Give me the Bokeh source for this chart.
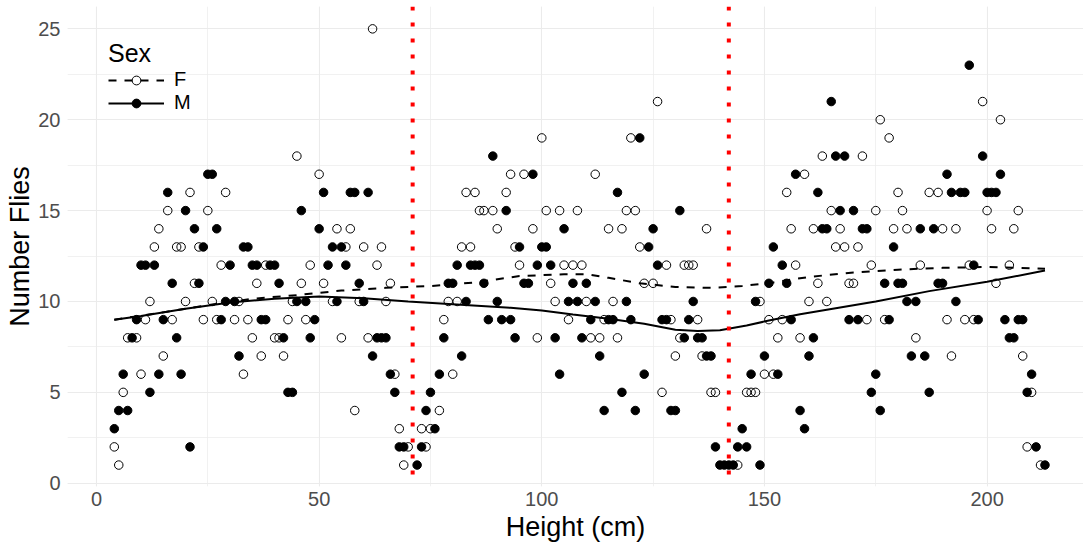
from bokeh.plotting import figure
from bokeh.models import (Range1d, SingleIntervalTicker, Span, Legend, LegendItem)
from bokeh.embed import file_html
from bokeh.resources import INLINE

# ---- data ----
F_HEIGHT = [4, 5, 6, 7, 9, 10, 11, 12, 13, 14, 15, 16, 17, 18, 19, 20, 21, 22, 23, 24, 25, 26, 27, 28, 29,
            31, 32, 33, 34, 35, 36, 37, 38, 40, 41, 42, 43, 44, 45, 46, 47, 48, 50, 51, 53, 54, 55, 56, 57,
            58, 59, 60, 61, 62, 63, 64, 65, 66, 67, 68, 69, 70, 73, 74, 75, 77, 78, 79, 80, 81, 82, 83, 84,
            85, 86, 87, 89, 90, 92, 93, 94, 95, 96, 98, 99, 100, 101, 102, 103, 104, 105, 106, 107, 108,
            109, 110, 111, 112, 113, 114, 115, 116, 117, 118, 119, 120, 121, 122, 123, 125, 126, 127, 128,
            129, 130, 131, 132, 133, 134, 135, 136, 137, 138, 139, 144, 146, 147, 148, 149, 150, 151, 152,
            153, 154, 155, 156, 157, 158, 159, 160, 161, 162, 163, 164, 165, 166, 167, 168, 169, 170, 171,
            172, 173, 174, 175, 176, 177, 178, 179, 180, 181, 182, 184, 185, 187, 189, 190, 191, 192, 193,
            195, 196, 197, 199, 200, 201, 202, 203, 205, 206, 207, 208, 209, 210, 212]
F_FLIES = [2, 1, 5, 8, 8, 6, 9, 10, 13, 14, 7, 15, 9, 13, 13, 10, 16, 11, 13, 9, 15, 10, 9, 12, 16,
           9, 10, 6, 9, 8, 11, 7, 12, 8, 8, 7, 9, 10, 18, 11, 9, 12, 17, 11, 10, 14, 8, 13, 14,
           4, 10, 13, 8, 25, 12, 13, 10, 11, 6, 3, 1, 2, 3, 2, 3, 4, 9, 10, 6, 10, 13, 16, 13,
           16, 15, 15, 15, 14, 16, 17, 13, 12, 17, 14, 8, 19, 15, 11, 10, 15, 12, 9, 12, 15,
           12, 10, 8, 17, 8, 9, 14, 10, 8, 14, 15, 19, 15, 13, 11, 11, 21, 5, 12,
           9, 7, 8, 12, 12, 12, 9, 7, 14, 5, 5, 1, 5, 5, 5, 10, 6, 9, 6,
           8, 9, 16, 14, 12, 8, 17, 10, 14, 11, 18, 10, 15, 13, 14, 13, 11, 11, 13,
           18, 9, 12, 15, 20, 9, 19, 14, 16, 15, 14, 8, 12, 16, 16, 14, 9, 7, 14,
           9, 12, 9, 21, 15, 14, 11, 20, 12, 14, 15, 7, 2, 5, 1]

M_HEIGHT = [4, 5, 6, 7, 8, 9, 10, 11, 12, 13, 14, 15, 16, 17, 18, 19, 20, 21, 22, 23, 24, 25, 26, 27, 28,
            29, 30, 31, 32, 33, 34, 35, 36, 37, 38, 39, 40, 41, 42, 43, 44, 45, 46, 47, 48, 49, 50, 51,
            52, 53, 54, 55, 56, 57, 58, 59, 60, 61, 62, 63, 64, 65, 66, 67, 68, 69, 72, 73, 74, 75, 76,
            77, 78, 79, 80, 81, 82, 83, 84, 85, 86, 87, 88, 89, 90, 91, 92, 93, 94, 95, 96, 97, 98, 99,
            100, 101, 102, 103, 104, 105, 106, 107, 108, 109, 110, 111, 112, 113, 114, 115, 116, 117,
            118, 119, 120, 121, 122, 123, 124, 125, 126, 127, 128, 129, 130, 131, 132, 133, 134, 135,
            136, 137, 138, 139, 140, 141, 142, 143, 144, 145, 146, 147, 148, 149, 150, 151, 152, 153,
            154, 155, 156, 157, 158, 159, 160, 161, 162, 163, 164, 165, 166, 167, 168, 169, 170, 171,
            172, 173, 174, 175, 176, 177, 178, 179, 180, 181, 182, 183, 184, 185, 186, 187, 188, 189,
            190, 191, 192, 193, 194, 195, 196, 197, 198, 199, 200, 201, 202, 203, 204, 205, 206, 207,
            208, 209, 210, 211, 213]
M_FLIES = [3, 4, 6, 4, 8, 9, 12, 12, 5, 12, 6, 9, 16, 11, 8, 6, 15, 2, 14, 11, 13, 17, 17, 14, 9,
           10, 12, 10, 7, 13, 13, 12, 12, 9, 9, 12, 12, 11, 8, 5, 5, 10, 15, 10, 8, 9, 14, 16,
           12, 13, 10, 13, 12, 16, 16, 11, 10, 16, 7, 8, 8, 8, 6, 5, 2, 2, 1, 2, 4, 5, 3,
           6, 8, 11, 11, 12, 7, 10, 12, 12, 12, 11, 9, 18, 10, 9, 15, 9, 8, 13, 11, 11, 17, 12,
           13, 13, 12, 8, 6, 14, 10, 11, 10, 8, 11, 9, 10, 7, 4, 9, 9, 16,
           5, 10, 9, 4, 19, 6, 13, 14, 12, 9, 9, 4, 4, 15, 8, 9, 10, 8,
           8, 7, 7, 2, 1, 1, 1, 1, 2, 3, 2, 6, 10, 1, 7, 11, 13, 6,
           12, 11, 9, 17, 4, 3, 7, 8, 16, 14, 14, 21, 18, 15, 18, 9, 15, 9,
           14, 14, 5, 6, 4, 11, 9, 13, 11, 11, 10, 7, 10, 14, 7, 5, 14, 11,
           11, 17, 16, 10, 16, 16, 23, 12, 9, 18, 16, 16, 16, 17, 9, 8, 8, 9,
           9, 5, 6, 2, 1]

# smoothed trend lines
F_SMOOTH_H = [4, 15, 25, 35, 45, 55, 65, 75, 85, 95, 105, 110, 115, 122, 130, 138, 145, 152, 160, 170, 180, 190, 200, 213]
F_SMOOTH_V = [9.0, 9.4, 9.8, 10.15, 10.35, 10.6, 10.75, 10.85, 11.05, 11.4, 11.5, 11.5, 11.3, 11.0, 10.8, 10.75,
              10.85, 11.05, 11.35, 11.6, 11.75, 11.85, 11.9, 11.8]
M_SMOOTH_H = [4, 10, 20, 30, 40, 50, 60, 70, 80, 93, 100, 107, 115, 123, 130, 135, 140, 146, 151, 158, 164, 175, 187, 200, 213]
M_SMOOTH_V = [9.0, 9.2, 9.6, 9.95, 10.15, 10.27, 10.18, 10.0, 9.85, 9.65, 9.5, 9.28, 9.05, 8.77, 8.45, 8.38,
              8.42, 8.68, 8.95, 9.3, 9.55, 10.0, 10.57, 11.08, 11.7]

VLINES = [71, 142]

FONT = "Liberation Sans"

p = figure(width=1083, height=548, output_backend="svg", toolbar_location=None,
           x_range=Range1d(-6.51, 221.65), y_range=Range1d(-0.18, 26.23),
           min_border_left=67, min_border_right=0, min_border_top=6, min_border_bottom=62)
p.outline_line_color = None
p.background_fill_color = "white"
p.border_fill_color = "white"

p.xaxis.ticker = SingleIntervalTicker(interval=50, num_minor_ticks=2)
p.yaxis.ticker = SingleIntervalTicker(interval=5, num_minor_ticks=2)

for ax in (p.xaxis, p.yaxis):
    ax.axis_line_color = None
    ax.major_tick_line_color = None
    ax.minor_tick_line_color = None
    ax.major_tick_out = 0
    ax.major_tick_in = 0
    ax.minor_tick_out = 0
    ax.major_label_text_font = FONT
    ax.major_label_text_font_size = "20px"
    ax.major_label_text_color = "#4D4D4D"
    ax.axis_label_text_font = FONT
    ax.axis_label_text_font_size = "27px"
    ax.axis_label_text_font_style = "normal"
    ax.axis_label_text_color = "black"

p.xaxis.axis_label = "Height (cm)"
p.yaxis.axis_label = "Number Flies"
p.xaxis.major_label_standoff = 5
p.xaxis.axis_label_standoff = 3
p.yaxis.major_label_standoff = 7
p.yaxis.axis_label_standoff = 0

for g in (p.xgrid, p.ygrid):
    g.grid_line_color = "#EBEBEB"
    g.grid_line_width = 1.1
    g.minor_grid_line_color = "#EBEBEB"
    g.minor_grid_line_width = 0.7

sf = p.scatter(F_HEIGHT, F_FLIES, marker="circle", size=8.5, fill_alpha=0,
               line_color="black", line_width=1)
sm = p.scatter(M_HEIGHT, M_FLIES, marker="circle", size=8.5, fill_color="black",
               line_color="black", line_width=1)
lf = p.line(F_SMOOTH_H, F_SMOOTH_V, line_color="black", line_width=2, line_dash="8 8")
lm = p.line(M_SMOOTH_H, M_SMOOTH_V, line_color="black", line_width=2)

for loc in VLINES:
    p.add_layout(Span(location=loc, dimension="height", line_color="red",
                      line_width=4, line_dash="4 12"))

legend = Legend(items=[LegendItem(label="F", renderers=[lf, sf]),
                       LegendItem(label="M", renderers=[lm, sm])],
                title="Sex", location=(41, 372))
legend.title_text_font = FONT
legend.title_text_font_size = "25px"
legend.title_text_font_style = "normal"
legend.title_text_color = "black"
legend.title_standoff = 0
legend.label_text_font = FONT
legend.label_text_font_size = "20px"
legend.label_text_color = "black"
legend.glyph_width = 56
legend.glyph_height = 22
legend.label_height = 22
legend.label_standoff = 10
legend.spacing = 0
legend.padding = 0
legend.margin = 0
legend.border_line_color = None
legend.background_fill_alpha = 0
p.add_layout(legend)

open("out.html", "w").write(file_html(p, INLINE))
